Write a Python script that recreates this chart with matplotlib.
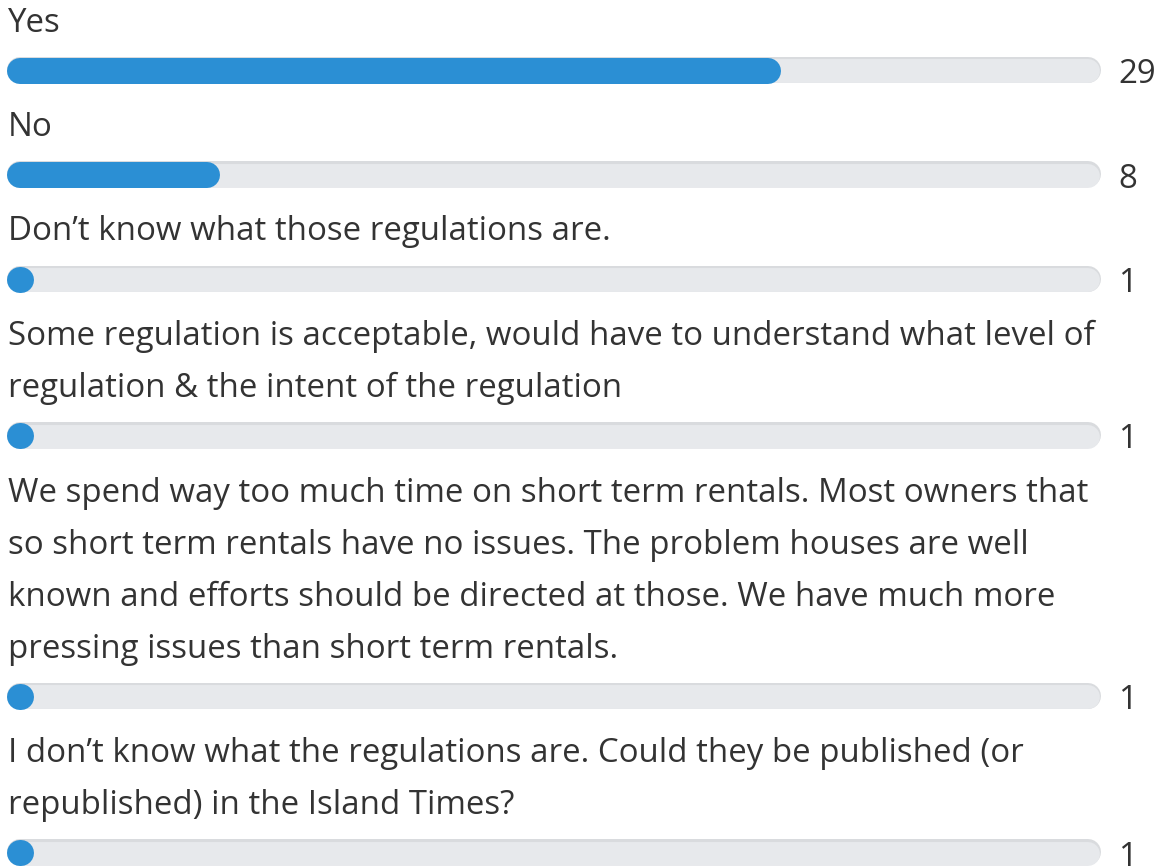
import matplotlib
matplotlib.use("Agg")
import matplotlib.pyplot as plt

# Poll responses and vote counts
labels = [
    ["Yes"],
    ["No"],
    ["Don\u2019t know what those regulations are."],
    ["Some regulation is acceptable, would have to understand what level of",
     "regulation & the intent of the regulation"],
    ["We spend way too much time on short term rentals. Most owners that",
     "so short term rentals have no issues. The problem houses are well",
     "known and efforts should be directed at those. We have much more",
     "pressing issues than short term rentals."],
    ["I don\u2019t know what the regulations are. Could they be published (or",
     "republished) in the Island Times?"],
]
votes = [29, 8, 1, 1, 1, 1]

W, H, DPI = 1158, 867, 100
track_left, track_right = 7, 1101      # pixel extent of the progress tracks
bar_h = 26                             # bar thickness in pixels
line_gap = 52                          # baseline spacing of wrapped label lines
baseline_to_bar = 39                   # last label baseline -> bar centre
bar_to_baseline = 65.5                 # bar centre -> next label baseline
first_baseline = 31.5
value_x = 1118

FILL = "#2b8fd4"
TRACK = "#e7e9ec"
TRACK_EDGE = "#d9dbde"
TEXT = "#333333"
FONT = "Open Sans"
FS = 23.8

total = sum(votes)
px_per_unit = (track_right - track_left) / total

fig = plt.figure(figsize=(W / DPI, H / DPI), dpi=DPI)
ax = fig.add_axes([0, 0, 1, 1])
ax.set_xlim(-track_left / px_per_unit, (W - track_left) / px_per_unit)
ax.set_ylim(H, 0)
ax.axis("off")

lw = bar_h * 72 / DPI
r = (bar_h / 2) / px_per_unit          # cap radius in data units

y = first_baseline
for lines, v in zip(labels, votes):
    for i, line in enumerate(lines):
        ax.text(1 / px_per_unit, y + i * line_gap, line, fontsize=FS,
                family=FONT, color=TEXT, va="baseline", ha="left")
    y_bar = y + (len(lines) - 1) * line_gap + baseline_to_bar
    # track with a faint darker top edge
    ax.plot([r, total - r], [y_bar - 1, y_bar - 1], color=TRACK_EDGE, lw=lw,
            solid_capstyle="round", zorder=1)
    ax.plot([r, total - r], [y_bar + 0.5, y_bar + 0.5], color=TRACK,
            lw=lw - 1.5, solid_capstyle="round", zorder=2)
    # filled portion proportional to the vote share
    ax.plot([r, max(v - r, r + 1e-6)], [y_bar, y_bar], color=FILL, lw=lw,
            solid_capstyle="round", zorder=3)
    ax.text((value_x - track_left) / px_per_unit, y_bar + 12.5, str(v),
            fontsize=FS, family=FONT, color=TEXT, va="baseline", ha="left")
    y = y_bar + bar_to_baseline

fig.savefig("out.png", dpi=DPI, facecolor="white")
